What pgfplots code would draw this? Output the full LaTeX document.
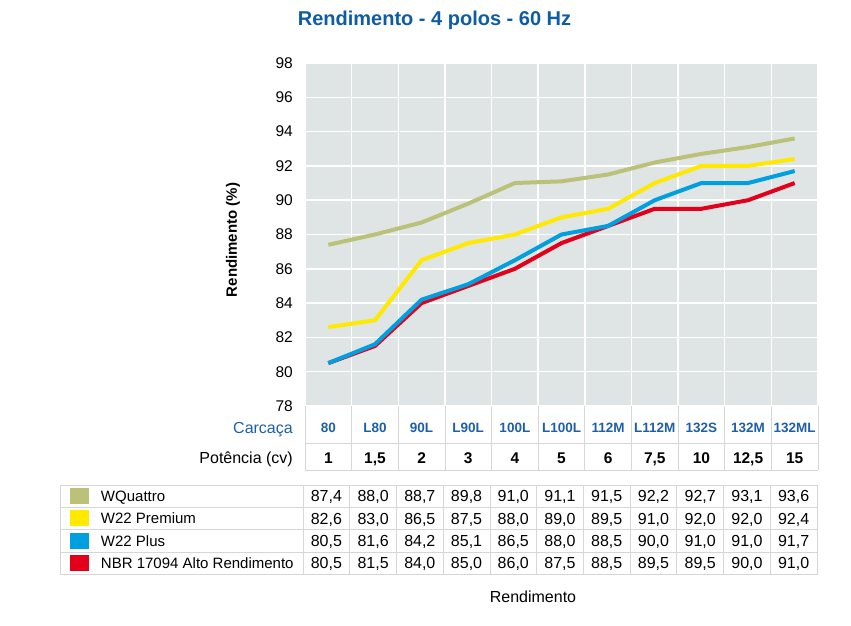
\documentclass[border=0pt]{standalone}
\usepackage{pgfplots}
\usepackage{pgfplotstable}
\pgfplotsset{compat=1.18}
\usepackage{fontspec}
\setmainfont{Liberation Sans}

\definecolor{plotbg}{HTML}{DFE5E4}
\definecolor{wq}{HTML}{BCC17A}
\definecolor{prem}{HTML}{FFE900}
\definecolor{plus}{HTML}{009FE0}
\definecolor{nbr}{HTML}{E2001A}
\definecolor{titleblue}{HTML}{0E5CA6}
\definecolor{hdrblue}{HTML}{1F5FA8}
\definecolor{tgrid}{HTML}{D6D6D6}
\newcommand{\fs}[1]{\fontsize{#1}{#1}\selectfont}

\pgfplotstableread{
x  wq   prem  plus  nbr
0  87.4 82.6  80.5  80.5
1  88.0 83.0  81.6  81.5
2  88.7 86.5  84.2  84.0
3  89.8 87.5  85.1  85.0
4  91.0 88.0  86.5  86.0
5  91.1 89.0  88.0  87.5
6  91.5 89.5  88.5  88.5
7  92.2 91.0  90.0  89.5
8  92.7 92.0  91.0  89.5
9  93.1 92.0  91.0  90.0
10 93.6 92.4  91.7  91.0
}\datatable

\newcommand{\valrow}[2]{%
  \foreach \v [count=\i from 0] in {#2}
    \node[anchor=base, inner sep=0pt, font=\fs{16}] at ({(-2+46.73*(\i+0.5))*1pt},#1) {\v};}

\begin{document}
\begin{tikzpicture}
\useasboundingbox (-305pt,-219pt) rectangle (546pt,406pt);
\begin{axis}[
  at={(0pt,0pt)}, anchor=south west,
  scale only axis, width=513pt, height=343pt,
  xmin=-0.5, xmax=10.5, ymin=78, ymax=98,
  axis lines*=left, axis line style={draw=none},
  axis background/.style={fill=plotbg},
  xtick={-0.5,0.5,...,10.5}, xticklabel=\empty,
  ytick={78,80,...,98},
  major tick length=0pt,
  grid=major, grid style={white, line width=1.5pt},
  /pgf/number format/assume math mode=true,
  yticklabel style={font=\fs{15.5}, inner sep=0pt, xshift=-12pt},
  ylabel={\textbf{Rendimento (\%)}},
  ylabel style={font=\fs{15}, at={(axis description cs:-0.1404,0.484)}, anchor=center},
  legend style={draw=none, fill=none, inner sep=0pt, outer sep=0pt,
    row sep=0pt, column sep=12pt,
    at={(axis description cs:-0.45809,-0.23032)}, anchor=north west,
    nodes={inner sep=0pt, minimum height=22.3pt, text height=11pt, text depth=0pt, font=\fs{15}}},
  legend cell align=left,
  legend image code/.code={\fill[#1, draw=none] (0pt,-8pt) rectangle (19pt,8pt);},
  clip=false,
]
\addplot[nbr, line width=4pt, forget plot] table[x=x,y=nbr]{\datatable};
\addplot[wq, line width=4pt] table[x=x,y=wq]{\datatable};
\addlegendentry{WQuattro}
\addplot[prem, line width=4pt] table[x=x,y=prem]{\datatable};
\addlegendentry{W22 Premium}
\addplot[plus, line width=4pt] table[x=x,y=plus]{\datatable};
\addlegendentry{W22 Plus}
\addlegendimage{nbr, line width=4pt}
\addlegendentry{NBR 17094 Alto Rendimento}
\end{axis}

% title
\node[anchor=base, inner sep=0pt, font=\fs{20}\bfseries, text=titleblue] at (129.5pt,381pt) {Rendimento - 4 polos - 60 Hz};

% header rows grid
\foreach \k in {0,...,11}
  \draw[tgrid, line width=0.8pt] ({46.64*\k*1pt},0pt) -- ({46.64*\k*1pt},-64pt);
\draw[tgrid, line width=0.8pt] (0pt,-37pt) -- (513pt,-37pt);
\draw[tgrid, line width=0.8pt] (0pt,-64pt) -- (513pt,-64pt);

\node[anchor=base east, inner sep=0pt, font=\fs{16}, text=hdrblue] at (-12pt,-27.7pt) {Carcaça};
\node[anchor=base east, inner sep=0pt, font=\fs{16}] at (-12pt,-57.7pt) {Potência (cv)};
\foreach \lab [count=\i from 0] in {80,L80,90L,L90L,100L,L100L,112M,L112M,132S,132M,132ML}
  \node[anchor=base, inner sep=0pt, font=\fs{13.5}\bfseries, text=hdrblue] at ({(23.32+46.64*\i)*1pt},-26.8pt) {\lab};
\foreach \lab [count=\i from 0] in {1,{1,5},2,3,4,5,6,{7,5},10,{12,5},15}
  \node[anchor=base, inner sep=0pt, font=\fs{15.5}\bfseries] at ({(23.32+46.64*\i)*1pt},-57.5pt) {\lab};

% value table grid
\draw[tgrid, line width=0.8pt] (-245pt,-79pt) rectangle (512pt,-168.2pt);
\foreach \y in {-101.3,-123.6,-145.9}
  \draw[tgrid, line width=0.8pt] (-245pt,\y pt) -- (512pt,\y pt);
\foreach \k in {0,...,10}
  \draw[tgrid, line width=0.8pt] ({(-2+46.73*\k)*1pt},-79pt) -- ({(-2+46.73*\k)*1pt},-168.2pt);

\valrow{-95.85pt}{{87,4},{88,0},{88,7},{89,8},{91,0},{91,1},{91,5},{92,2},{92,7},{93,1},{93,6}}
\valrow{-118.15pt}{{82,6},{83,0},{86,5},{87,5},{88,0},{89,0},{89,5},{91,0},{92,0},{92,0},{92,4}}
\valrow{-140.45pt}{{80,5},{81,6},{84,2},{85,1},{86,5},{88,0},{88,5},{90,0},{91,0},{91,0},{91,7}}
\valrow{-162.75pt}{{80,5},{81,5},{84,0},{85,0},{86,0},{87,5},{88,5},{89,5},{89,5},{90,0},{91,0}}

\node[anchor=base, inner sep=0pt, font=\fs{16}] at (228pt,-196.7pt) {Rendimento};
\end{tikzpicture}
\end{document}
